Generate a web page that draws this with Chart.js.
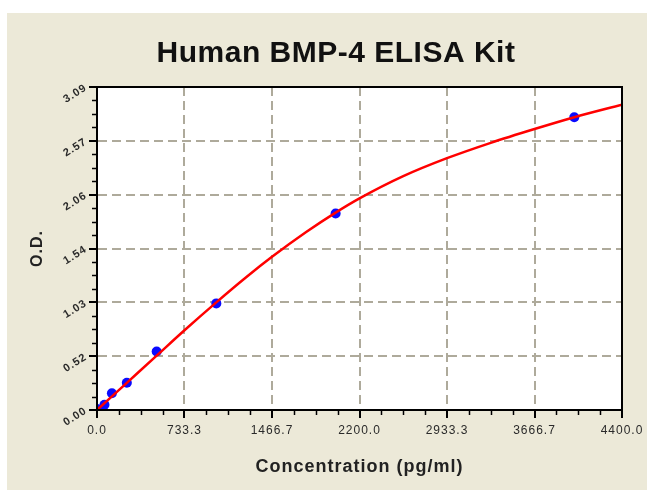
<!DOCTYPE html>
<html><head><meta charset="utf-8">
<script src="https://cdn.jsdelivr.net/npm/chart.js@4/dist/chart.umd.min.js"></script>
<style>html,body{margin:0;padding:0;background:#fff;overflow:hidden}#wrap{position:absolute;left:0;top:0;width:647px;height:490px}</style>
</head><body><div id="wrap"><canvas id="c" width="647" height="490"></canvas></div>
<script>
const titleText = 'Human BMP-4 ELISA Kit';
const xAxisTitle = 'Concentration (pg/ml)';
const yAxisTitle = 'O.D.';
const standardConc = [0, 62.5, 125, 250, 500, 1000, 2000, 4000];
const standardOD = [0.01, 0.05, 0.16, 0.26, 0.56, 1.02, 1.88, 2.80];
const curveConc = [0, 250, 500, 733.3, 1000, 1250, 1466.7, 1750, 2000, 2200, 2566.7, 2933.3, 3300, 3666.7, 4000, 4400];
const curveOD = [0.00, 0.26, 0.52, 0.763, 1.03, 1.27, 1.465, 1.70, 1.888, 2.024, 2.237, 2.409, 2.556, 2.688, 2.801, 2.921];
const xTickValues = [0, 733.33, 1466.67, 2200, 2933.33, 3666.67, 4400];
const xTickLabels = ['0.0', '733.3', '1466.7', '2200.0', '2933.3', '3666.7', '4400.0'];
const yTickValues = [0, 0.515, 1.03, 1.545, 2.06, 2.575, 3.09];
const yTickLabels = ['0.00', '0.52', '1.03', '1.54', '2.06', '2.57', '3.09'];

const FONT = "'Liberation Sans', Arial, sans-serif";

const decor = {
  id: 'decor',
  beforeDraw(chart) {
    const ctx = chart.ctx, a = chart.chartArea;
    ctx.fillStyle = '#ffffff';
    ctx.fillRect(0, 0, chart.width, chart.height);
    ctx.fillStyle = '#ece9d8';
    ctx.fillRect(7, 13, chart.width - 7, chart.height - 13);
    ctx.fillStyle = '#ffffff';
    ctx.fillRect(a.left, a.top, a.right - a.left, a.bottom - a.top);
    try { ctx.letterSpacing = '1px'; } catch (e) {}
  },
  afterDraw(chart) {
    const ctx = chart.ctx, a = chart.chartArea;
    const xs = chart.scales.x, ys = chart.scales.y;
    ctx.save();
    try { ctx.letterSpacing = '0.5px'; } catch (e) {}
    ctx.fillStyle = '#111111';
    ctx.font = "bold 30px " + FONT;
    ctx.textAlign = 'center';
    ctx.textBaseline = 'alphabetic';
    ctx.fillText(titleText, 336, 62);
    ctx.strokeStyle = '#000000';
    ctx.lineWidth = 2;
    ctx.strokeRect(a.left, a.top, a.right - a.left, a.bottom - a.top);
    ctx.lineWidth = 1.5;
    ctx.beginPath();
    for (let i = 0; i < xTickValues.length - 1; i++) {
      const s = (xTickValues[i + 1] - xTickValues[i]) / 4;
      for (let k = 1; k < 4; k++) {
        const px = Math.round(xs.getPixelForValue(xTickValues[i] + k * s)) + 0.5;
        ctx.moveTo(px, a.bottom);
        ctx.lineTo(px, a.bottom + 5);
      }
    }
    for (let i = 0; i < yTickValues.length - 1; i++) {
      const s = (yTickValues[i + 1] - yTickValues[i]) / 4;
      for (let k = 1; k < 4; k++) {
        const py = Math.round(ys.getPixelForValue(yTickValues[i] + k * s)) + 0.5;
        ctx.moveTo(a.left, py);
        ctx.lineTo(a.left - 5, py);
      }
    }
    ctx.stroke();
    ctx.restore();
    try { ctx.letterSpacing = '0px'; } catch (e) {}
  }
};

const gridOpts = { color: '#aeaa9b', lineWidth: 2, tickColor: '#000000', tickWidth: 2, tickLength: 8 };
const borderOpts = { display: true, color: '#000000', width: 2, dash: [9, 5] };

new Chart(document.getElementById('c').getContext('2d'), {
  type: 'scatter',
  data: {
    datasets: [
      {
        type: 'line',
        data: curveConc.map((x, i) => ({ x: x, y: curveOD[i] })),
        borderColor: '#ff0000',
        borderWidth: 2.5,
        pointRadius: 0,
        fill: false,
        cubicInterpolationMode: 'monotone',
        order: 0
      },
      {
        type: 'scatter',
        data: standardConc.map((x, i) => ({ x: x, y: standardOD[i] })),
        backgroundColor: '#0a0aff',
        borderColor: '#0a0aff',
        pointRadius: 5,
        borderWidth: 0,
        order: 1
      }
    ]
  },
  options: {
    responsive: false,
    animation: false,
    devicePixelRatio: 1,
    layout: { padding: { left: 28, right: 25, top: 87, bottom: 12 } },
    plugins: { legend: { display: false }, tooltip: { enabled: false }, title: { display: false } },
    scales: {
      x: {
        type: 'linear', min: 0, max: 4400,
        afterBuildTicks: s => { s.ticks = xTickValues.map(v => ({ value: v })); },
        afterFit: s => { s.height = 68; },
        ticks: {
          callback: (v, i) => xTickLabels[i], autoSkip: false, minRotation: 0, maxRotation: 0,
          padding: 5, color: '#2a2a2a', font: { family: FONT, size: 12 }
        },
        grid: gridOpts,
        border: borderOpts,
        title: { display: true, text: xAxisTitle, color: '#222222', padding: 0, font: { family: FONT, size: 18, weight: 'bold' } }
      },
      y: {
        type: 'linear', min: 0, max: 3.09,
        afterBuildTicks: s => { s.ticks = yTickValues.map(v => ({ value: v })); },
        afterFit: s => { s.width = 69; },
        ticks: {
          callback: (v, i) => yTickLabels[i], autoSkip: false, minRotation: 32, maxRotation: 32,
          padding: 3, color: '#2a2a2a', font: { family: FONT, size: 11, weight: 'bold' }
        },
        grid: gridOpts,
        border: borderOpts,
        title: { display: true, text: yAxisTitle, color: '#222222', padding: 0, font: { family: FONT, size: 16, weight: 'bold' } }
      }
    }
  },
  plugins: [decor]
});
</script>
</body></html>
